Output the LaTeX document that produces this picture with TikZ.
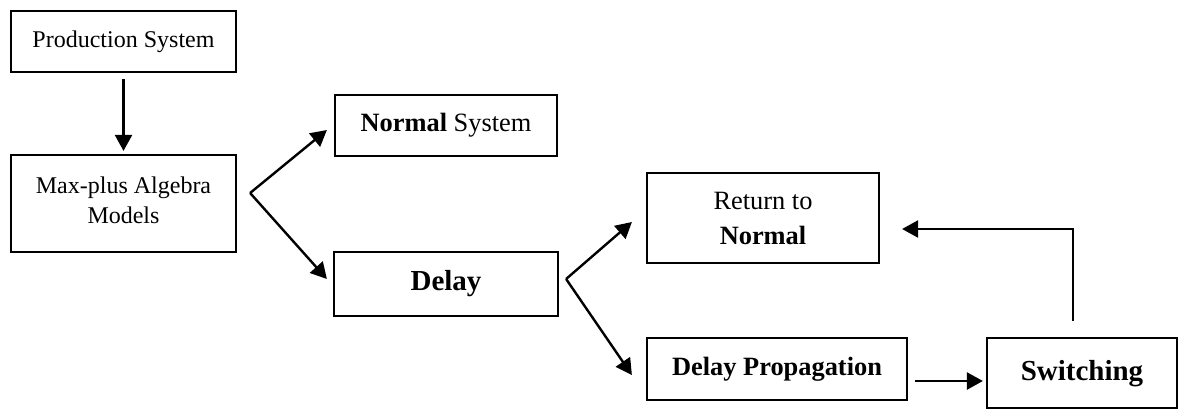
\documentclass[tikz,border=0pt]{standalone}
\usepackage{fontspec}
\setmainfont{Liberation Serif}
\usetikzlibrary{arrows.meta}
\begin{document}
\begin{tikzpicture}[x=0.5pt,y=-0.5pt,
  box/.style={draw=black,line width=1.1pt,rectangle,inner sep=0pt,align=center,font=\fontsize{12}{16.5}\selectfont},
  bigtxt/.style={font=\fontsize{14.5}{17}\selectfont\bfseries},
  midtxt/.style={font=\fontsize{13.2}{17.5}\selectfont},
  arr/.style={line width=1.2pt,-{Triangle[length=8pt,width=8.5pt]}}]
\useasboundingbox (0,0) rectangle (1178,408);
\node[box,minimum width=112.5pt,minimum height=30.5pt] (prod) at (123.5,41.5) {\raisebox{2.5pt}{Production System}};
\node[box,minimum width=112.5pt,minimum height=48.5pt] (maxp) at (123.5,203.5) {\raisebox{3.2pt}{\shortstack{Max-plus Algebra\\[1pt]Models}}};
\node[box,midtxt,minimum width=111pt,minimum height=30.5pt] (normal) at (446,125.5) {\raisebox{1.5pt}{\textbf{Normal} System}};
\node[box,bigtxt,minimum width=112pt,minimum height=32pt] (delay) at (446,284) {\raisebox{1.2pt}{Delay}};
\node[box,midtxt,minimum width=116pt,minimum height=45pt] (ret) at (763,218) {Return to\\\textbf{Normal}};
\node[box,font=\fontsize{13.2}{16}\selectfont\bfseries,minimum width=130pt,minimum height=31pt] (dprop) at (777,369) {\raisebox{1pt}{Delay Propagation}};
\node[box,bigtxt,minimum width=95pt,minimum height=35.25pt] (sw) at (1082,373.25) {\raisebox{3pt}{Switching}};
% connectors
\draw[arr] ([yshift=-3pt]prod.south) -- ([yshift=1.5pt]maxp.north);
\coordinate (b1) at ([xshift=6.5pt,yshift=5.25pt]maxp.east);
\draw[arr] (b1) -- ([xshift=-3.5pt,yshift=-2.25pt]normal.west);
\draw[arr] (b1) -- ([xshift=-3pt,yshift=2.5pt]delay.west);
\coordinate (b2) at ([xshift=3.5pt,yshift=2.5pt]delay.east);
\draw[arr] (b2) -- ([xshift=-7pt,yshift=-2pt]ret.west);
\draw[arr] (b2) -- ([xshift=-7pt,yshift=-3pt]dprop.west);
\coordinate (a1) at ([xshift=3.5pt,yshift=-6pt]dprop.east);
\draw[arr,shorten >=1.5pt] (a1) -- (a1 -| sw.west);
\draw[arr] ([xshift=-4.5pt,yshift=8pt]sw.north) |- ([xshift=11pt,yshift=-5.5pt]ret.east);
\end{tikzpicture}
\end{document}
